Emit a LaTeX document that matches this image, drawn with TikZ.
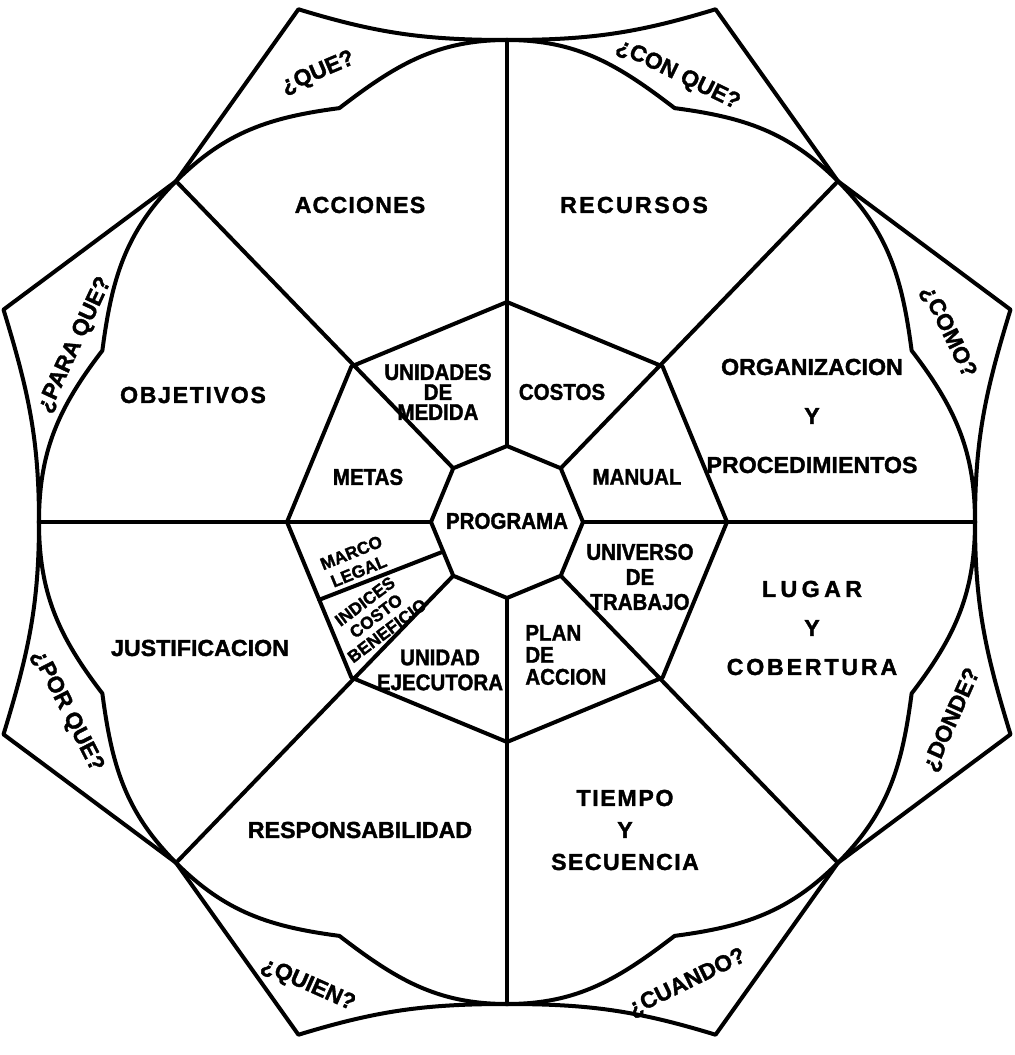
\documentclass[tikz,border=0pt]{standalone}
\usepackage{fontspec}
\setmainfont{Liberation Sans}[BoldFeatures={FakeBold=1.5}]
\usetikzlibrary{calc}
\newcommand{\trk}[2]{{\addfontfeature{LetterSpace=#1}#2}}
\tikzset{
  rim/.style={line width=2pt, line join=round, line cap=round},
  mainlbl/.style={font=\fontsize{11.6}{#1}\selectfont\bfseries,
    align=center, inner sep=0pt},
  mainlbl/.default=14,
  innerlbl/.style={font=\fontsize{11.4}{#1}\selectfont\bfseries\addfontfeature{FakeStretch=0.9},
    align=center, inner sep=0pt},
  innerlbl/.default=12,
  tinylbl/.style={font=\fontsize{8.6}{#1}\selectfont\bfseries,
    align=center, inner sep=0pt},
  tinylbl/.default=10,
  asklbl/.style={font=\fontsize{11.4}{14}\selectfont\bfseries,
    inner sep=0pt, rotate=#1},
  asklbl/.default=0,
}
\begin{document}
\begin{tikzpicture}[x=0.5pt, y=0.5pt]
\useasboundingbox (-507,-533) rectangle (507,522);

% points: inner octagon, middle octagon, rim, notches, tips
\coordinate (C) at (0,0);
\foreach \k [evaluate=\k as \a using 45*\k,
             evaluate=\k as \b using 45*\k+22.5] in {0,...,7} {
  \coordinate (I\k) at (\a:76);
  \coordinate (M\k) at (\a:220);
  \coordinate (E\k) at (\a:468 and 482);
  \coordinate (K\k) at (\b:438 and 448);
  \coordinate (T\k) at (\b:545 and 555);
}

% spokes and octagons
\foreach \k in {0,...,7}
  \draw[rim] (I\k) -- (E\k);
\draw[rim] (I0) \foreach \k in {1,...,7} {-- (I\k)} -- cycle;
\draw[rim] (M0) \foreach \k in {1,...,7} {-- (M\k)} -- cycle;
\coordinate (S1) at ($(I4)!0.55!(I5)$);
\coordinate (S2) at ($(M4)!0.5!(M5)$);
\draw[rim] (S1) -- (S2);

% notched rim
\foreach \k [evaluate=\k as \oa using 45*\k+90,
             evaluate=\k as \ia using 45*\k+307.5,
             evaluate=\k as \ob using 45*\k+97.5,
             evaluate=\k as \ib using 45*\k+315,
             evaluate=\k as \n using {int(mod(\k+1,8))}] in {0,...,7}
  \draw[rim] (E\k) to[out=\oa, in=\ia] (K\k) to[out=\ob, in=\ib] (E\n);

% star outline
\draw[rim]
  (E0) to[out=90,in=253] (T0) -- (E1) -- (T1) to[out=197,in=0] (E2)
       to[out=180,in=343] (T2) -- (E3) -- (T3) to[out=287,in=90] (E4)
       to[out=270,in=73] (T4) -- (E5) -- (T5) to[out=17,in=180] (E6)
       to[out=0,in=163] (T6) -- (E7) -- (T7) to[out=107,in=270] (E0);

% outer sectors
\node[mainlbl] (acciones) at (-147,317) {\trk{5}{ACCIONES}};
\node[mainlbl] (recursos) at (127,317) {\trk{10}{RECURSOS}};
\node[mainlbl] (objetivos) at (-314,127) {\trk{7}{OBJETIVOS}};
\node[mainlbl=24.5] (organizacion) at (305,106) {ORGANIZACION\\Y\\PROCEDIMIENTOS};
\node[mainlbl] (justificacion) at (-307,-126) {JUSTIFICACION};
\node[mainlbl=19.5] (lugar) at (305,-106) {\trk{19}{LUGAR}\\Y\\\trk{12}{COBERTURA}};
\node[mainlbl] (responsabilidad) at (-147,-308) {RESPONSABILIDAD};
\node[mainlbl=16] (tiempo) at (118,-308) {\trk{7}{TIEMPO}\\Y\\\trk{6}{SECUENCIA}};

% middle ring
\node[innerlbl=10] (unidades) at (-69,130) {UNIDADES\\DE\\MEDIDA};
\node[innerlbl] (costos) at (55,130) {COSTOS};
\node[innerlbl] (metas) at (-139,45) {METAS};
\node[innerlbl] (manual) at (130,45) {MANUAL};
\node[innerlbl] (programa) at (0,1) {PROGRAMA};
\node[tinylbl, rotate=22] (marco) at (-152,-40) {MARCO\\LEGAL};
\node[tinylbl=9.2, rotate=37] (indices) at (-131,-94) {INDICES\\COSTO\\BENEFICIO};
\node[innerlbl=12.5] (unidad) at (-67,-148) {UNIDAD\\EJECUTORA};
\node[innerlbl=11, align=left, anchor=west] (plan) at (18,-133) {PLAN\\DE\\ACCION};
\node[innerlbl=12.5] (universo) at (133,-55) {UNIVERSO\\DE\\TRABAJO};

% questions
\node[asklbl=23] (ask-que) at (-189,449) {¿QUE?};
\node[asklbl=-26] (ask-conque) at (171,447) {¿CON QUE?};
\node[asklbl=-64] (ask-como) at (441,190) {¿COMO?};
\node[asklbl=66] (ask-donde) at (445,-198) {¿DONDE?};
\node[asklbl=26] (ask-cuando) at (180,-461) {¿CUANDO?};
\node[asklbl=-24] (ask-quien) at (-199,-463) {¿QUIEN?};
\node[asklbl=-63] (ask-porque) at (-440,-189) {¿POR QUE?};
\node[asklbl=65] (ask-paraque) at (-432,177) {¿PARA QUE?};
\end{tikzpicture}
\end{document}
